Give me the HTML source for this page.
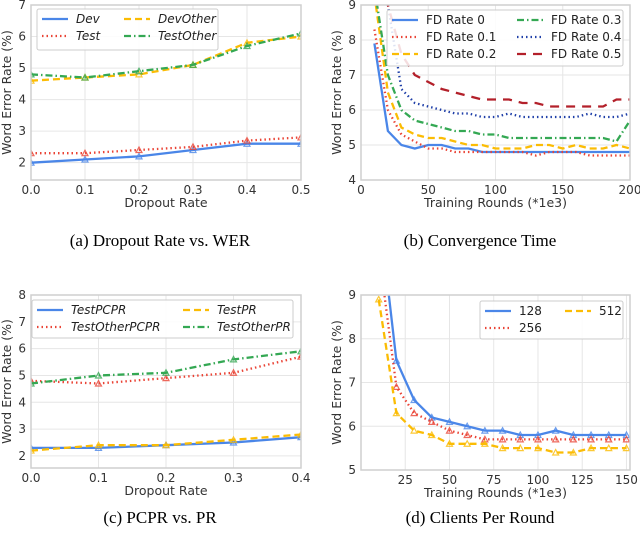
<!DOCTYPE html>
<html><head><meta charset="utf-8"><style>
body{margin:0;background:#fff;width:640px;height:546px;overflow:hidden}
svg{font-family:"DejaVu Sans","Liberation Sans",sans-serif}
.cap{font-family:"Liberation Serif",serif;font-size:17px;fill:#000}
</style></head><body>
<svg id="s" width="640" height="546">
<text class="cap" x="160" y="246" text-anchor="middle">(a)  Dropout Rate vs. WER</text>
<text class="cap" x="480" y="246" text-anchor="middle">(b)  Convergence Time</text>
<text class="cap" x="160" y="523" text-anchor="middle">(c)  PCPR vs. PR</text>
<text class="cap" x="480" y="523" text-anchor="middle">(d)  Clients Per Round</text>
</svg>
<script>
// chart a
const aX=[0,0.1,0.2,0.3,0.4,0.5];
const aDev=[2.0,2.1,2.2,2.4,2.6,2.6];
const aTest=[2.3,2.3,2.4,2.5,2.7,2.8];
const aDevOther=[4.6,4.7,4.8,5.1,5.8,6.0];
const aTestOther=[4.8,4.7,4.9,5.1,5.7,6.1];
const aXTicks=[0,0.1,0.2,0.3,0.4,0.5];
const aYTicks=[2,3,4,5,6,7];
// chart b
const bX=[10,20,30,40,50,60,70,80,90,100,110,120,130,140,150,160,170,180,190,200];
const bFD0=[7.9,5.4,5.0,4.9,5.0,5.0,4.9,4.9,4.8,4.8,4.8,4.8,4.8,4.8,4.8,4.8,4.8,4.8,4.8,4.8];
const bFD1=[8.3,6.0,5.3,5.1,4.9,4.9,4.8,4.8,4.8,4.8,4.8,4.8,4.7,4.8,4.8,4.8,4.7,4.7,4.7,4.7];
const bFD2=[9.3,6.5,5.5,5.3,5.2,5.2,5.1,5.0,5.0,4.9,4.9,4.9,5.0,5.0,4.9,5.0,4.9,4.9,5.0,4.9];
const bFD3=[9.5,7.0,6.0,5.7,5.6,5.5,5.4,5.4,5.3,5.3,5.2,5.2,5.2,5.2,5.2,5.2,5.2,5.2,5.1,5.7];
const bFD4=[10.5,9.0,6.6,6.2,6.1,6.0,5.9,5.9,5.8,5.8,5.9,5.8,5.8,5.8,5.8,5.8,5.9,5.8,5.8,5.9];
const bFD5=[11,9.0,7.6,7.0,6.8,6.6,6.5,6.4,6.3,6.3,6.3,6.2,6.2,6.1,6.1,6.1,6.1,6.1,6.3,6.3];
const bXTicks=[0,50,100,150,200];
const bYTicks=[4,5,6,7,8,9];
// chart c
const cX=[0,0.1,0.2,0.3,0.4];
const cTestPCPR=[2.3,2.3,2.4,2.5,2.7];
const cTestPR=[2.2,2.4,2.4,2.6,2.8];
const cTestOtherPCPR=[4.8,4.7,4.9,5.1,5.7];
const cTestOtherPR=[4.7,5.0,5.1,5.6,5.9];
const cXTicks=[0,0.1,0.2,0.3,0.4];
const cYTicks=[2,3,4,5,6,7,8];
// chart d
const dX=[10,20,30,40,50,60,70,80,90,100,110,120,130,140,150];
const d128=[11,7.5,6.6,6.2,6.1,6.0,5.9,5.9,5.8,5.8,5.9,5.8,5.8,5.8,5.8];
const d256=[10,6.9,6.3,6.1,5.9,5.8,5.7,5.7,5.7,5.7,5.7,5.7,5.7,5.7,5.7];
const d512=[8.9,6.3,5.9,5.8,5.6,5.6,5.6,5.5,5.5,5.5,5.4,5.4,5.5,5.5,5.5];
const dXTicks=[25,50,75,100,125,150];
const dYTicks=[5,6,7,8,9];

const NS='http://www.w3.org/2000/svg';
const svg=document.getElementById('s');
function el(t,a,p){const e=document.createElementNS(NS,t);for(const k in a)e.setAttribute(k,a[k]);(p||svg).appendChild(e);return e;}
const C={blue:'#4a86e8',red:'#ea4335',yel:'#fbbc04',green:'#34a853',navy:'#1f3fa8',dred:'#b3202a'};
const DASH={solid:'',dot:'1.5 3',dash:'7 4',dashdot:'7 3 1.5 3',longdash:'9 7'};

function chart(id,box,xl,yl,xt,yt,xfmt,xlabel,series,leg){
  const g=el('g',{});
  
  
  const X=v=>box.x0+(v-xl[0])/(xl[1]-xl[0])*(box.x1-box.x0);
  const Y=v=>box.y1-(v-yl[0])/(yl[1]-yl[0])*(box.y1-box.y0);
  el('rect',{x:box.x0,y:box.y0,width:box.x1-box.x0,height:box.y1-box.y0,fill:'#fff'},g);
  const cp=el('clipPath',{id:id+'-clip'},g);
  el('rect',{x:box.x0,y:box.y0,width:box.x1-box.x0,height:box.y1-box.y0},cp);
  xt.forEach(v=>{
    const gl=el('line',{x1:X(v),x2:X(v),y1:box.y0,y2:box.y1,stroke:'#e6e6e6','stroke-width':1},g);
    
    const t=el('text',{x:X(v),y:box.y1+14,'font-size':12,'text-anchor':'middle',fill:'#333'},g);
    
    t.textContent=xfmt(v);
  });
  yt.forEach(v=>{
    el('line',{x1:box.x0,x2:box.x1,y1:Y(v),y2:Y(v),stroke:'#e6e6e6','stroke-width':1},g);
    const t=el('text',{x:box.x0-5,y:Y(v)+4,'font-size':12,'text-anchor':'end',fill:'#333'},g);
    
    t.textContent=v;
  });
  const lg=el('g',{'clip-path':'url(#'+id+'-clip)'},g);
  series.forEach(s=>{
    const pts=s.x.map((v,i)=>X(v).toFixed(1)+','+Y(s.y[i]).toFixed(1)).join(' ');
    const pl=el('polyline',{points:pts,fill:'none',stroke:s.c,'stroke-width':2.3,'stroke-dasharray':DASH[s.d]},lg);
    
    
    if(s.m){s.x.forEach((v,i)=>{
      const cx=X(v),cy=Y(s.y[i]);
      const p=el('path',{d:`M${cx-3},${cy+2.5}L${cx+3},${cy+2.5}L${cx},${cy-3}Z`,fill:'none',stroke:s.c,'stroke-width':1.2,opacity:0.8},lg);
      
    });}
  });
  el('rect',{x:box.x0,y:box.y0,width:box.x1-box.x0,height:box.y1-box.y0,fill:'none',stroke:'#cfcfcf','stroke-width':1.5},g);
  const xlab=el('text',{x:(box.x0+box.x1)/2,y:box.y1+27,'font-size':12.5,'text-anchor':'middle',fill:'#333'},g);
  
  xlab.textContent=xlabel;
  const cy=(box.y0+box.y1)/2;
  const ylab=el('text',{x:box.x0-20,y:cy,'font-size':12.5,'text-anchor':'middle',fill:'#333',transform:`rotate(-90 ${box.x0-20} ${cy})`},g);
  
  ylab.textContent='Word Error Rate (%)';
  const L=el('g',{},g);
  
  el('rect',{x:leg.x,y:leg.y,width:leg.w,height:leg.h,fill:'#fff','fill-opacity':0.85,stroke:'#ccc',rx:2},L);
  series.forEach((s,i)=>{
    const col=Math.floor(i/leg.rows),row=i%leg.rows;
    const lx=leg.x+5+col*leg.cw,ly=leg.y+10+row*17;
    el('line',{x1:lx,x2:lx+26,y1:ly,y2:ly,stroke:s.c,'stroke-width':2.3,'stroke-dasharray':DASH[s.d]},L);
    const t=el('text',{x:lx+34,y:ly+4,'font-size':12,fill:'#222','font-style':leg.it?'italic':'normal'},L);
    
    t.textContent=s.n;
  });
}
const f1=v=>v.toFixed(1), f0=v=>String(v);
chart('chart-a',{x0:31,x1:301,y0:5,y1:180},[0,0.5],[1.45,7],aXTicks,aYTicks,f1,'Dropout Rate',[
 {n:'Dev',x:aX,y:aDev,c:C.blue,d:'solid',m:1},
 {n:'Test',x:aX,y:aTest,c:C.red,d:'dot',m:1},
 {n:'DevOther',x:aX,y:aDevOther,c:C.yel,d:'dash',m:1},
 {n:'TestOther',x:aX,y:aTestOther,c:C.green,d:'dashdot',m:1}],
 {x:37,y:9,w:181,h:41,rows:2,cw:82,it:1});
chart('chart-b',{x0:361,x1:630,y0:5,y1:180},[0,200],[4,9],bXTicks,bYTicks,f0,'Training Rounds (*1e3)',[
 {n:'FD Rate 0',x:bX,y:bFD0,c:C.blue,d:'solid'},
 {n:'FD Rate 0.1',x:bX,y:bFD1,c:C.red,d:'dot'},
 {n:'FD Rate 0.2',x:bX,y:bFD2,c:C.yel,d:'dash'},
 {n:'FD Rate 0.3',x:bX,y:bFD3,c:C.green,d:'dashdot'},
 {n:'FD Rate 0.4',x:bX,y:bFD4,c:C.navy,d:'dot'},
 {n:'FD Rate 0.5',x:bX,y:bFD5,c:C.dred,d:'longdash'}],
 {x:387,y:10,w:236,h:56,rows:3,cw:125,it:0});
chart('chart-c',{x0:31,x1:301,y0:295,y1:468},[0,0.4],[1.55,8],cXTicks,cYTicks,f1,'Dropout Rate',[
 {n:'TestPCPR',x:cX,y:cTestPCPR,c:C.blue,d:'solid',m:1},
 {n:'TestOtherPCPR',x:cX,y:cTestOtherPCPR,c:C.red,d:'dot',m:1},
 {n:'TestPR',x:cX,y:cTestPR,c:C.yel,d:'dash',m:1},
 {n:'TestOtherPR',x:cX,y:cTestOtherPR,c:C.green,d:'dashdot',m:1}],
 {x:32,y:300,w:261,h:38,rows:2,cw:146,it:1});
chart('chart-d',{x0:361,x1:630,y0:295,y1:470},[0,152],[5,9],dXTicks,dYTicks,f0,'Training Rounds (*1e3)',[
 {n:'128',x:dX,y:d128,c:C.blue,d:'solid',m:1},
 {n:'256',x:dX,y:d256,c:C.red,d:'dot',m:1},
 {n:'512',x:dX,y:d512,c:C.yel,d:'dash',m:1}],
 {x:480,y:301,w:143,h:38,rows:2,cw:80,it:0});
</script>
</body></html>
